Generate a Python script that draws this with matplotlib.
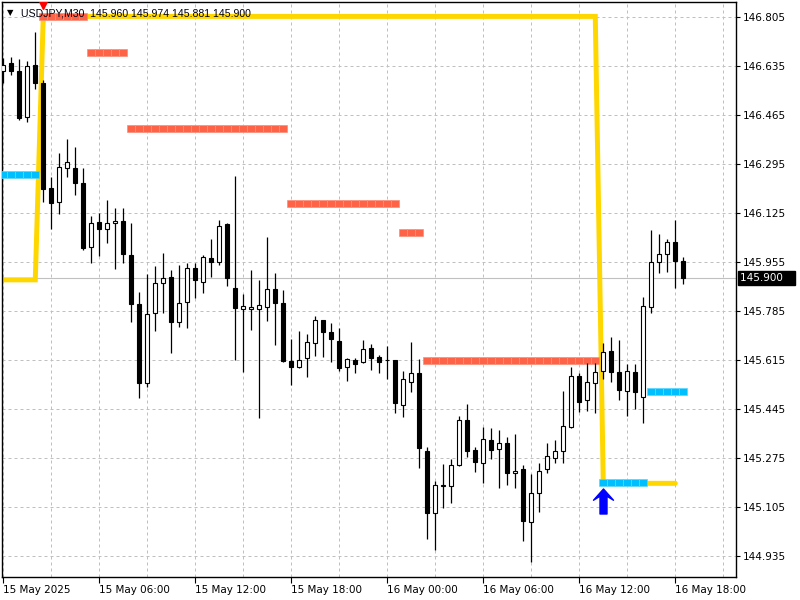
import numpy as np
import matplotlib
matplotlib.use('Agg')
import matplotlib.pyplot as plt
import matplotlib.transforms as mtransforms
from matplotlib.path import Path

# USDJPY M30, 15 May 00:00 .. 16 May 18:30
opens = [146.619, 146.648, 146.619, 146.458, 146.640, 146.576, 146.212, 146.165, 146.281, 146.281,
         146.229, 146.009, 146.094, 146.069, 146.090, 146.098, 145.980, 145.809, 145.535, 145.778,
         145.882, 145.903, 145.749, 145.816, 145.934, 145.888, 145.969, 145.957, 146.087, 145.865,
         145.794, 145.792, 145.792, 145.799, 145.861, 145.813, 145.612, 145.593, 145.622, 145.674,
         145.754, 145.712, 145.681, 145.591, 145.615, 145.608, 145.657, 145.625, 145.615, 145.615,
         145.459, 145.539, 145.570, 145.301, 145.084, 145.180, 145.179, 145.251, 145.408, 145.304,
         145.258, 145.338, 145.306, 145.327, 145.223, 145.237, 145.055, 145.156, 145.237, 145.275,
         145.300, 145.385, 145.559, 145.476, 145.535, 145.578, 145.647, 145.573, 145.509, 145.573,
         145.489, 145.799, 145.957, 145.984, 146.024, 145.960]
highs = [146.663, 146.666, 146.659, 146.653, 146.753, 146.587, 146.252, 146.333, 146.382, 146.356,
         146.281, 146.116, 146.125, 146.171, 146.142, 146.142, 146.090, 145.853, 145.913, 145.942,
         145.986, 145.928, 145.946, 145.951, 145.951, 145.980, 146.035, 146.102, 146.090, 146.254,
         145.844, 145.928, 145.894, 146.042, 145.917, 145.859, 145.689, 145.717, 145.706, 145.769,
         145.756, 145.744, 145.726, 145.622, 145.622, 145.685, 145.670, 145.633, 145.666, 145.617,
         145.579, 145.677, 145.618, 145.315, 145.196, 145.254, 145.271, 145.422, 145.463, 145.315,
         145.382, 145.379, 145.373, 145.348, 145.358, 145.252, 145.219, 145.258, 145.327, 145.338,
         145.509, 145.593, 145.570, 145.605, 145.607, 145.675, 145.694, 145.685, 145.602, 145.601,
         145.836, 146.067, 146.052, 146.036, 146.102, 145.974]
lows = [146.578, 146.605, 146.449, 146.443, 146.555, 146.165, 146.072, 146.123, 146.252, 146.188,
        145.998, 145.951, 145.977, 146.023, 145.931, 145.951, 145.749, 145.484, 145.523, 145.718,
        145.778, 145.639, 145.732, 145.728, 145.830, 145.850, 145.905, 145.946, 145.873, 145.615,
        145.575, 145.720, 145.414, 145.752, 145.668, 145.608, 145.529, 145.589, 145.558, 145.631,
        145.627, 145.610, 145.579, 145.544, 145.570, 145.607, 145.581, 145.572, 145.551, 145.433,
        145.419, 145.506, 145.240, 144.994, 144.957, 145.101, 145.119, 145.248, 145.280, 145.228,
        145.190, 145.271, 145.171, 145.182, 145.171, 144.988, 144.916, 145.090, 145.225, 145.260,
        145.260, 145.379, 145.437, 145.440, 145.433, 145.550, 145.541, 145.477, 145.422, 145.445,
        145.396, 145.778, 145.917, 145.922, 145.865, 145.881]
closes = [146.640, 146.619, 146.457, 146.636, 146.576, 146.208, 146.160, 146.285, 146.302, 146.229,
          146.006, 146.090, 146.069, 146.090, 146.098, 145.983, 145.809, 145.537, 145.775, 145.882,
          145.899, 145.749, 145.813, 145.934, 145.893, 145.974, 145.957, 146.082, 145.902, 145.797,
          145.803, 145.799, 145.807, 145.861, 145.815, 145.614, 145.593, 145.615, 145.677, 145.754,
          145.714, 145.688, 145.589, 145.618, 145.601, 145.653, 145.622, 145.608, 145.615, 145.466,
          145.549, 145.570, 145.310, 145.086, 145.181, 145.182, 145.251, 145.408, 145.301, 145.261,
          145.341, 145.304, 145.327, 145.223, 145.232, 145.058, 145.153, 145.232, 145.284, 145.300,
          145.388, 145.559, 145.471, 145.539, 145.573, 145.643, 145.573, 145.511, 145.576, 145.504,
          145.803, 145.957, 145.984, 146.024, 145.960, 145.900]

# indicator: yellow trail (start bar, end bar, level)
trail_start = [0, 5, 75]
trail_end = [4, 74, 84]
trail_level = [145.894, 146.808, 145.188]

# red (resistance) blocks
res_start = [5, 11, 16, 36, 50, 53]
res_end = [10, 15, 35, 49, 52, 74]
res_level = [146.808, 146.682, 146.418, 146.158, 146.057, 145.613]

# blue (support) blocks
sup_start = [0, 75, 81]
sup_end = [4, 80, 85]
sup_level = [146.258, 145.190, 145.508]

# signal arrows
sell_bar, sell_price = 5, 146.855
buy_bar, buy_price = 75, 145.128

bid = 145.900
header = 'USDJPY,M30  145.960 145.974 145.881 145.900'

ytick_vals = [144.935, 145.105, 145.275, 145.445, 145.615, 145.785,
              145.955, 146.125, 146.295, 146.465, 146.635, 146.805]
xtick_bars = [0, 12, 24, 36, 48, 60, 72, 84]
xtick_labels = ['15 May 2025', '15 May 06:00', '15 May 12:00', '15 May 18:00',
                '16 May 00:00', '16 May 06:00', '16 May 12:00', '16 May 18:00']

PX_PRICE = 1 / 288.2   # price per pixel
n = len(opens)
idx = np.arange(n)
o, h, l, c = map(np.array, (opens, highs, lows, closes))


def per_bar(starts, ends, levels):
    arr = np.full(n, np.nan)
    for s, e, v in zip(starts, ends, levels):
        arr[s:e + 1] = v
    return arr


fig = plt.figure(figsize=(8, 6), dpi=100)
ax = fig.add_axes([2 / 800, 23 / 600, 734 / 800, 575 / 600])
ax.set_xlim(-0.16, 91.59)
ax.set_ylim(144.863, 146.858)

# grid
ax.set_xticks(xtick_bars)
ax.set_xticklabels(xtick_labels)
ax.set_xticks(np.arange(6, 92, 6), minor=True)
ax.grid(True, which='both', axis='x', color='#C0C0C0', lw=0.72, ls=(0, (3, 3)), zorder=0)
ax.set_yticks(ytick_vals)
ax.set_yticklabels(['%.3f' % v for v in ytick_vals])
ax.grid(True, which='major', axis='y', color='#C0C0C0', lw=0.72, ls=(0, (3, 3)), zorder=0)
ax.set_axisbelow(True)

# bid line
ax.axhline(bid, color='#C0C0C0', lw=0.8, zorder=1)

# yellow trail
ax.plot(idx, per_bar(trail_start, trail_end, trail_level), color='#FFD700', lw=3.6,
        solid_capstyle='round', solid_joinstyle='miter', zorder=2)

# block markers
blk_h = 7 * PX_PRICE
res = per_bar(res_start, res_end, res_level)
m = ~np.isnan(res)
ax.bar(idx[m], blk_h, bottom=res[m] - blk_h / 2, width=1.0, color='#FF6347',
       edgecolor='#FF8C78', lw=0.5, zorder=3)
sup = per_bar(sup_start, sup_end, sup_level)
m = ~np.isnan(sup)
ax.bar(idx[m], blk_h, bottom=sup[m] - blk_h / 2, width=1.0, color='#00BFFF',
       edgecolor='#5CD6FF', lw=0.5, zorder=3)

# candles
up = c >= o
ax.vlines(idx, l, h, color='black', lw=0.9, zorder=4)
ax.bar(idx, np.abs(c - o), bottom=np.minimum(o, c), width=0.5,
       color=np.where(up, 'white', 'black'), edgecolor='black', lw=0.8, zorder=5)

# signal arrows
arrow = Path([(0, 1), (0.8, 0.1), (0.28, 0.42), (0.28, -1), (-0.28, -1),
              (-0.28, 0.42), (-0.8, 0.1), (0, 1)],
             [Path.MOVETO] + [Path.LINETO] * 6 + [Path.CLOSEPOLY])
ax.plot([buy_bar], [buy_price], marker=arrow, ms=18, color='#0000FF', ls='none', zorder=6)
ax.plot([sell_bar], [sell_price], marker='v', ms=8, color='#FF0000', ls='none', zorder=6)

# axes styling
for s in ax.spines.values():
    s.set_color('black')
    s.set_linewidth(1.0)
ax.yaxis.tick_right()
ax.tick_params(axis='y', which='major', direction='out', length=3, width=0.8,
               labelsize=7.5, pad=2, colors='black')
ax.tick_params(axis='x', which='major', direction='out', length=4, width=0.8,
               labelsize=7.5, pad=1.5, colors='black')
ax.tick_params(axis='x', which='minor', length=0)
for lab in ax.get_xticklabels():
    lab.set_horizontalalignment('left')

# bid label box
trans = mtransforms.blended_transform_factory(ax.transAxes, ax.transData)
ax.annotate('145.900   ', xy=(1.0, bid), xycoords=trans, xytext=(3, 0),
            textcoords='offset points', ha='left', va='center', fontsize=7.5,
            color='white', annotation_clip=False,
            bbox=dict(boxstyle='square,pad=0.2', fc='black', ec='black'))

# header
fig.text(7 / 800, 1 - 13 / 600, '▼', fontsize=6, va='center', ha='left', color='black')
fig.text(21 / 800, 1 - 13 / 600, header, fontsize=7.6, va='center', ha='left',
         color='#000010', family=['Liberation Sans', 'DejaVu Sans'])

fig.savefig('out.png', dpi=100)
